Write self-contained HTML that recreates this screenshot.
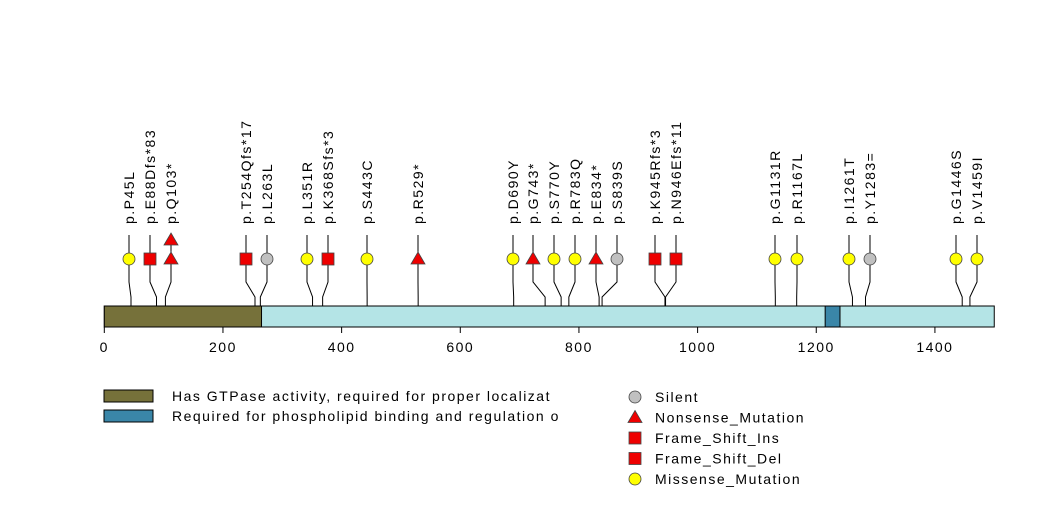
<!DOCTYPE html>
<html><head><meta charset="utf-8"><style>
body{margin:0;background:#fff}
svg{display:block;font-family:"Liberation Sans",sans-serif}
svg text{letter-spacing:1.5px}
</style></head><body>
<svg id="chart" width="1047" height="524" viewBox="0 0 1047 524"></svg>
<script>
const proteinLength = 1500;
const mutPos = [45,88,103,103,254,263,351,368,443,529,690,743,770,783,834,839,945,946,1131,1167,1261,1283,1446,1459];
const mutLabels = ["p.P45L","p.E88Dfs*83","p.Q103*",null,"p.T254Qfs*17","p.L263L","p.L351R","p.K368Sfs*3","p.S443C","p.R529*","p.D690Y","p.G743*","p.S770Y","p.R783Q","p.E834*","p.S839S","p.K945Rfs*3","p.N946Efs*11","p.G1131R","p.R1167L","p.I1261T","p.Y1283=","p.G1446S","p.V1459I"];
const mutTypes = ["mis","ins","non","non","ins","sil","mis","ins","mis","non","mis","non","mis","mis","non","sil","ins","del","mis","mis","mis","sil","mis","mis"];
const mutStack = [0,0,0,1,0,0,0,0,0,0,0,0,0,0,0,0,0,0,0,0,0,0,0,0];
const displayX = [129,150,171,171,246,267,307,328,367,418,513,533,554,575,596,617,655,676,775,797,849,870,956,977];
const domainStarts = [0,1215];
const domainEnds = [265,1240];
const domainNames = ["Has GTPase activity, required for proper localizat","Required for phospholipid binding and regulation o"];
const domainColors = ["#76713a","#3a86a8"];
const ticks = [0,200,400,600,800,1000,1200,1400];

const svg = document.getElementById('chart');
const NS = 'http://www.w3.org/2000/svg';
const x = v => 104.3 + v * 0.5933;
function mk(tag, attrs, parent){ const e=document.createElementNS(NS,tag); for(const k in attrs) e.setAttribute(k,attrs[k]); (parent||svg).appendChild(e); return e; }

const bb = mk('rect',{x:x(0),y:306,width:x(proteinLength)-x(0),height:21,fill:'#b4e4e6',stroke:'#000','stroke-width':1});


domainStarts.forEach((s,i)=>{
  const r = mk('rect',{x:x(s),y:306,width:x(domainEnds[i])-x(s),height:21,fill:domainColors[i],stroke:'#000','stroke-width':1});
  
  
});
mk('line',{x1:x(0),y1:327,x2:x(1400),y2:327,stroke:'#000'});
ticks.forEach(t=>{
  mk('line',{x1:x(t),y1:327,x2:x(t),y2:333,stroke:'#000'});
  const tx = mk('text',{x:x(t),y:352,'font-size':14,'text-anchor':'middle'});
  tx.textContent=t;
  
  
});
function sym(type,cx,cy,parent){
  if(type==='mis') return mk('circle',{cx:cx,cy:cy,r:6,fill:'#ffff00',stroke:'#444','stroke-width':0.8},parent);
  if(type==='sil') return mk('circle',{cx:cx,cy:cy,r:6,fill:'#c0c0c0',stroke:'#444','stroke-width':0.8},parent);
  if(type==='non') return mk('polygon',{points:`${cx},${cy-7} ${cx+7},${cy+5} ${cx-7},${cy+5}`,fill:'#ee0000',stroke:'#444','stroke-width':0.8},parent);
  return mk('rect',{x:cx-6,y:cy-6,width:12,height:12,fill:'#ee0000',stroke:'#444','stroke-width':0.8},parent);
}
mutPos.forEach((p,i)=>{
  const g = mk('g',{});
  
  
  const dx = displayX[i];
  if(mutStack[i]===0){
    mk('polyline',{points:`${x(p)},306 ${x(p)},297 ${dx},282 ${dx},235`,fill:'none',stroke:'#000','stroke-width':1},g);
  }
  sym(mutTypes[i],dx,mutStack[i]?240:259,g);
  if(mutLabels[i]){
    const t = mk('text',{x:0,y:0,'font-size':14,transform:`translate(${dx+5},224) rotate(-90)`},g);
    t.textContent = mutLabels[i];
  }
});
domainNames.forEach((n,i)=>{
  const y = 390 + i*20;
  const r = mk('rect',{x:104,y:y,width:49,height:12,fill:domainColors[i],stroke:'#000'});
  
  
  const t = mk('text',{x:172,y:y+11,'font-size':14});
  t.textContent=n;
  
  
});
const legTypes=['sil','non','ins','del','mis'];
const legNames=['Silent','Nonsense_Mutation','Frame_Shift_Ins','Frame_Shift_Del','Missense_Mutation'];
legTypes.forEach((tp,i)=>{
  const y = 397 + i*20.5;
  const g = mk('g',{});
  
  
  sym(tp,635,y,g);
  const t = mk('text',{x:655,y:y+5,'font-size':14},g);
  t.textContent=legNames[i];
});
</script>
</body></html>
